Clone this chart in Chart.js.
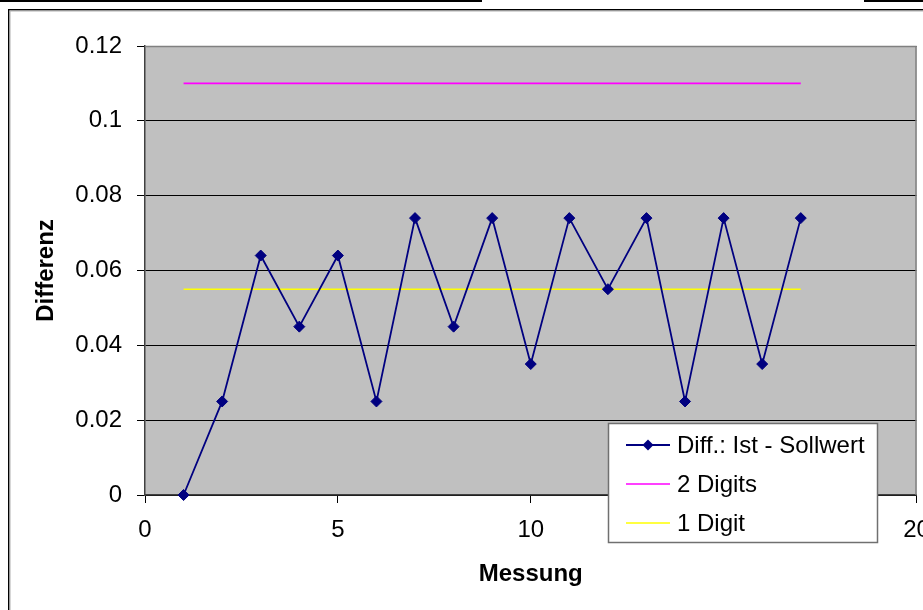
<!DOCTYPE html>
<html>
<head>
<meta charset="utf-8">
<script src="https://cdn.jsdelivr.net/npm/chart.js@4"></script>
<style>
  html, body { margin: 0; padding: 0; background: #ffffff; }
  #chart { display: block; }
</style>
</head>
<body>
<canvas id="chart" width="923" height="610"></canvas>
<script>
// Measurement numbers and the measured difference (actual - target)
const measurements = [1, 2, 3, 4, 5, 6, 7, 8, 9, 10, 11, 12, 13, 14, 15, 16, 17];
const diffValues = [0, 0.025, 0.064, 0.045, 0.064, 0.025, 0.074, 0.045, 0.074, 0.035, 0.074, 0.055, 0.074, 0.025, 0.074, 0.035, 0.074];

// Tolerance limits, drawn across the measured range
const limitRange = [1, 17];
const twoDigitValues = [0.11, 0.11];
const oneDigitValues = [0.055, 0.055];

// Axis ticks
const xTickValues = [0, 5, 10, 15, 20];
const yTickValues = [0, 0.02, 0.04, 0.06, 0.08, 0.1, 0.12];

const seriesNames = ['Diff.: Ist - Sollwert', '2 Digits', '1 Digit'];
const axisTitles = { x: 'Messung', y: 'Differenz' };

const FONT = '"Liberation Sans", Arial, sans-serif';
const NAVY = '#000080';

const toPoints = (xs, ys) => xs.map((x, i) => ({ x: x, y: ys[i] }));

// Page frame and grey plot area
const backgroundPlugin = {
  id: 'background',
  beforeDraw(chart) {
    const { ctx, chartArea: a } = chart;
    ctx.save();
    ctx.fillStyle = '#ffffff';
    ctx.fillRect(0, 0, chart.width, chart.height);
    // header rules
    ctx.fillStyle = '#000000';
    ctx.fillRect(0, 0, 482, 2);
    ctx.fillRect(864, 0, chart.width - 864, 2);
    // chart frame
    ctx.fillRect(8, 9, chart.width - 8, 1.5);
    ctx.fillRect(8, 9, 1.5, chart.height - 9);
    ctx.fillStyle = '#b0b0b0';
    ctx.fillRect(9.5, 10.5, chart.width - 9.5, 1);
    ctx.fillRect(9.5, 10.5, 1, chart.height - 10.5);
    // plot area
    ctx.fillStyle = '#c0c0c0';
    ctx.fillRect(a.left, a.top, a.right - a.left, a.bottom - a.top);
    ctx.restore();
  },
  beforeDatasetsDraw(chart) {
    const { ctx, chartArea: a } = chart;
    ctx.save();
    ctx.strokeStyle = '#808080';
    ctx.lineWidth = 1.5;
    ctx.beginPath();
    ctx.moveTo(a.left, a.top + 0.5);
    ctx.lineTo(a.right - 0.5, a.top + 0.5);
    ctx.lineTo(a.right - 0.5, a.bottom);
    ctx.stroke();
    ctx.restore();
  }
};

// Legend box placed over the lower right of the plot
const legendBoxPlugin = {
  id: 'legendBox',
  afterDraw(chart) {
    const { ctx } = chart;
    const box = { x: 608, y: 423, w: 270, h: 120 };
    ctx.save();
    ctx.fillStyle = '#ffffff';
    ctx.fillRect(box.x, box.y, box.w, box.h);
    ctx.strokeStyle = '#707070';
    ctx.lineWidth = 1.5;
    ctx.strokeRect(box.x + 0.5, box.y + 0.5, box.w - 1, box.h - 1);
    ctx.font = '24px ' + FONT;
    ctx.textBaseline = 'middle';
    ctx.textAlign = 'left';
    chart.data.datasets.forEach((ds, i) => {
      const y = box.y + 22 + i * 39;
      ctx.strokeStyle = ds.borderColor;
      ctx.lineWidth = ds.borderWidth;
      ctx.beginPath();
      ctx.moveTo(626, y);
      ctx.lineTo(670, y);
      ctx.stroke();
      if (ds.pointRadius > 0) {
        Chart.helpers.drawPoint(ctx, {
          pointStyle: ds.pointStyle,
          rotation: 0,
          borderWidth: 1
        }, 648, y);
        ctx.fillStyle = ds.pointBackgroundColor;
        ctx.strokeStyle = ds.pointBorderColor;
        ctx.beginPath();
        const r = ds.pointRadius;
        ctx.moveTo(648, y - r);
        ctx.lineTo(648 + r, y);
        ctx.lineTo(648, y + r);
        ctx.lineTo(648 - r, y);
        ctx.closePath();
        ctx.fill();
      }
      ctx.fillStyle = '#000000';
      ctx.fillText(ds.label, 677, y + 1);
    });
    ctx.restore();
  }
};

new Chart(document.getElementById('chart'), {
  type: 'line',
  data: {
    datasets: [
      {
        label: seriesNames[0],
        data: toPoints(measurements, diffValues),
        borderColor: NAVY,
        borderWidth: 1.8,
        pointStyle: 'rectRot',
        pointRadius: 5.5,
        pointBackgroundColor: NAVY,
        pointBorderColor: NAVY,
        pointBorderWidth: 1,
        tension: 0,
        clip: false
      },
      {
        label: seriesNames[1],
        data: toPoints(limitRange, twoDigitValues),
        borderColor: '#ff00ff',
        borderWidth: 1.6,
        pointRadius: 0,
        tension: 0
      },
      {
        label: seriesNames[2],
        data: toPoints(limitRange, oneDigitValues),
        borderColor: '#ffff00',
        borderWidth: 1.6,
        pointRadius: 0,
        tension: 0
      }
    ]
  },
  options: {
    responsive: false,
    animation: false,
    devicePixelRatio: 1,
    layout: { padding: { left: 0, top: 46, right: 5, bottom: 0 } },
    plugins: {
      legend: { display: false },
      tooltip: { enabled: false }
    },
    scales: {
      x: {
        type: 'linear',
        min: xTickValues[0],
        max: xTickValues[xTickValues.length - 1],
        afterBuildTicks(scale) {
          scale.ticks = xTickValues.map(v => ({ value: v }));
        },
        afterFit(scale) {
          scale.height = 115;
          scale.paddingLeft = 0;
          scale.paddingRight = 0;
        },
        grid: {
          drawOnChartArea: false,
          drawTicks: true,
          tickLength: 8,
          tickColor: '#000000',
          tickWidth: 1
        },
        border: { display: true, color: '#404040', width: 1.5 },
        ticks: {
          color: '#000000',
          font: { family: FONT, size: 24 },
          padding: 13,
          maxRotation: 0,
          autoSkip: false,
          callback: v => String(v)
        },
        title: {
          display: true,
          text: axisTitles.x,
          color: '#000000',
          font: { family: FONT, size: 24, weight: 'bold' },
          padding: { top: 0, bottom: 21 }
        }
      },
      y: {
        type: 'linear',
        min: yTickValues[0],
        max: yTickValues[yTickValues.length - 1],
        afterBuildTicks(scale) {
          scale.ticks = yTickValues.map(v => ({ value: v }));
        },
        afterFit(scale) {
          scale.width = 145;
          scale.paddingTop = 0;
          scale.paddingBottom = 0;
        },
        grid: {
          drawOnChartArea: true,
          drawTicks: true,
          tickLength: 8,
          color: '#000000',
          lineWidth: 1,
          tickColor: '#000000'
        },
        border: { display: true, color: '#404040', width: 1.5 },
        ticks: {
          color: '#000000',
          font: { family: FONT, size: 24 },
          padding: 15,
          autoSkip: false,
          callback: v => String(Number(v.toFixed(2)))
        },
        title: {
          display: true,
          text: axisTitles.y,
          color: '#000000',
          font: { family: FONT, size: 24, weight: 'bold' },
          padding: { top: 32, bottom: 0 }
        }
      }
    }
  },
  plugins: [backgroundPlugin, legendBoxPlugin]
});
</script>
</body>
</html>
